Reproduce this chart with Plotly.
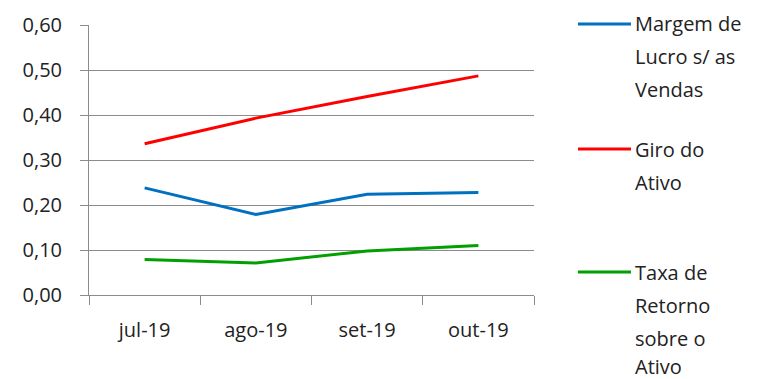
import plotly.graph_objects as go

categories = ["jul-19", "ago-19", "set-19", "out-19"]
margem_lucro = [0.238, 0.179, 0.224, 0.228]
giro_ativo = [0.336, 0.393, 0.441, 0.487]
taxa_retorno = [0.079, 0.071, 0.098, 0.110]

series_names = [["Margem de", "Lucro s/ as", "Vendas"],
                ["Giro do", "Ativo"],
                ["Taxa de", "Retorno", "sobre o", "Ativo"]]
series_values = [margem_lucro, giro_ativo, taxa_retorno]
colors = ["#0070C0", "#FF0000", "#00A000"]

FONT = "Open Sans"
FS = 20
W, H = 767, 379
L, R, T, B = 89, 534, 25, 295

fig = go.Figure()
for name, vals, col in zip(series_names, series_values, colors):
    fig.add_trace(go.Scatter(x=categories, y=vals, mode="lines", name=" ".join(name),
                             line=dict(color=col, width=3), showlegend=False))

def px2x(px):
    return (px - L) / (R - L)

def py2y(py):
    return (B - py) / (B - T)

# manual legend
legend_y = [24, 149, 272]
line_gap = 33
shapes = []
annotations = []
for name, col, ly in zip(series_names, colors, legend_y):
    shapes.append(dict(type="line", xref="paper", yref="paper",
                       x0=px2x(578), x1=px2x(631), y0=py2y(ly), y1=py2y(ly),
                       line=dict(color=col, width=3)))
    for i, txt in enumerate(name):
        yy = min(ly + i * line_gap, H - 13)
        annotations.append(dict(xref="paper", yref="paper", x=px2x(634), y=py2y(yy),
                                text=txt, showarrow=False, xanchor="left", yanchor="middle",
                                borderpad=0,
                                font=dict(family=FONT, size=FS, color="#222222")))

fig.update_layout(
    width=W, height=H,
    margin=dict(l=L, r=W - R, t=T, b=H - B, pad=0),
    paper_bgcolor="white", plot_bgcolor="white",
    separators=",.",
    font=dict(family=FONT, size=FS, color="#222222"),
    shapes=shapes, annotations=annotations,
)
fig.update_yaxes(range=[0, 0.6], dtick=0.1, tickformat=".2f",
                 showgrid=True, gridcolor="#8c8c8c", gridwidth=1,
                 showline=True, linecolor="#8c8c8c", linewidth=1,
                 ticks="outside", ticklen=8, tickcolor="#8c8c8c",
                 ticklabelstandoff=14, zeroline=False, automargin=False,
                 tickfont=dict(family=FONT, size=FS, color="#222222"))
fig.update_xaxes(type="category", tickson="boundaries", range=[-0.5, 3.5],
                 showgrid=False, showline=True, linecolor="#8c8c8c", linewidth=1,
                 ticks="outside", ticklen=9, tickcolor="#8c8c8c",
                 ticklabelstandoff=17, automargin=False,
                 tickfont=dict(family=FONT, size=FS, color="#222222"))

fig.write_html("out.html", config={"displayModeBar": False},
               post_script="document.body.style.margin='0px';document.body.style.padding='0px';")
